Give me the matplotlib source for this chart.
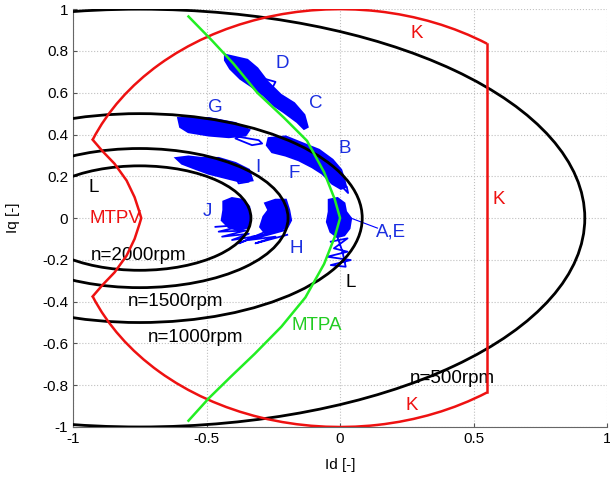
import numpy as np
from matplotlib import pyplot as plt
from matplotlib.patches import Ellipse, Arc

plt.rcParams['font.family'] = ['Liberation Sans', 'DejaVu Sans']

# voltage limit ellipses (centre on Id axis, semi axes)
ell_center = -0.751
ell_a = [1.668, 0.834, 0.556, 0.417]
ell_b = [1.0, 0.5, 0.333, 0.25]

# current limit K: unit circle, cut at Id = 0.55
k_id_max = 0.55
k_theta = [56.6, 158.0]

# MTPV and MTPA curves
mtpv_x = [-0.927, -0.89, -0.845, -0.80, -0.77, -0.752, -0.745, -0.752, -0.77, -0.80, -0.845, -0.89, -0.927]
mtpv_y = [0.375, 0.32, 0.26, 0.18, 0.10, 0.03, 0.0, -0.03, -0.10, -0.18, -0.26, -0.32, -0.375]
mtpa_x = [-0.568, -0.48, -0.40, -0.31, -0.21, -0.124, -0.06, -0.02, 0.0, -0.02, -0.06, -0.13, -0.22, -0.32, -0.41, -0.49, -0.568]
mtpa_y = [0.965, 0.85, 0.74, 0.60, 0.48, 0.37, 0.22, 0.09, 0.0, -0.09, -0.22, -0.38, -0.52, -0.65, -0.76, -0.86, -0.97]

# measured trajectories, outlines of the dense blobs
dc_x = [-0.430, -0.348, -0.311, -0.273, -0.223, -0.173, -0.135, -0.123, -0.135, -0.160, -0.211, -0.248, -0.286, -0.336, -0.373, -0.411, -0.430]
dc_y = [0.780, 0.756, 0.716, 0.652, 0.589, 0.549, 0.493, 0.437, 0.429, 0.461, 0.509, 0.541, 0.589, 0.636, 0.668, 0.716, 0.756]
g_x = [-0.605, -0.492, -0.392, -0.342, -0.355, -0.417, -0.492, -0.568, -0.598]
g_y = [0.477, 0.477, 0.453, 0.421, 0.397, 0.389, 0.397, 0.413, 0.437]
i_x = [-0.612, -0.568, -0.518, -0.455, -0.392, -0.342, -0.330, -0.367, -0.417, -0.492, -0.543, -0.592]
i_y = [0.286, 0.293, 0.286, 0.286, 0.262, 0.230, 0.182, 0.174, 0.190, 0.214, 0.238, 0.262]
bf_x = [-0.267, -0.204, -0.142, -0.079, -0.029, 0.003, 0.015, 0.021, 0.003, -0.029, -0.066, -0.104, -0.154, -0.204, -0.254, -0.273]
bf_y = [0.381, 0.389, 0.357, 0.325, 0.278, 0.230, 0.182, 0.150, 0.142, 0.166, 0.214, 0.245, 0.278, 0.301, 0.317, 0.349]
j_x = [-0.436, -0.405, -0.367, -0.342, -0.336, -0.342, -0.380, -0.417, -0.442, -0.436]
j_y = [0.078, 0.094, 0.086, 0.054, 0.006, -0.042, -0.057, -0.042, -0.010, 0.038]
h_x = [-0.279, -0.242, -0.204, -0.192, -0.185, -0.198, -0.229, -0.279, -0.298, -0.286, -0.267]
h_y = [0.070, 0.086, 0.086, 0.038, -0.010, -0.042, -0.057, -0.073, -0.042, 0.006, 0.038]
ae_x = [-0.041, -0.010, 0.015, 0.021, 0.040, 0.034, 0.015, -0.010, -0.035, -0.048, -0.041]
ae_y = [0.086, 0.094, 0.070, 0.030, -0.002, -0.049, -0.081, -0.089, -0.065, -0.018, 0.030]

# loops / zigzags of the trajectories
loops = [
    ([-0.286, -0.242, -0.261, -0.286], [0.668, 0.652, 0.605, 0.668]),
    ([-0.417, -0.305, -0.292, -0.330, -0.392, -0.367], [0.397, 0.373, 0.357, 0.349, 0.381, 0.397]),
    ([-0.392, -0.380, -0.342, -0.355, -0.392], [0.198, 0.166, 0.174, 0.214, 0.198]),
    ([-0.467, -0.342, -0.455, -0.355, -0.442, -0.342, -0.405, -0.305, -0.380, -0.279],
     [-0.042, -0.030, -0.065, -0.060, -0.089, -0.075, -0.105, -0.085, -0.121, -0.065]),
    ([-0.330, -0.204, -0.342, -0.242, -0.317, -0.198],
     [-0.089, -0.057, -0.105, -0.089, -0.121, -0.080]),
    ([-0.035, 0.028, -0.023, 0.028, -0.048, 0.040, -0.035, 0.021, 0.009, -0.01],
     [-0.113, -0.097, -0.145, -0.161, -0.185, -0.201, -0.225, -0.233, -0.161, -0.09]),
    ([0.0, 0.025, 0.03, 0.0], [0.16, 0.15, 0.12, 0.16]),
]
ptr_x = [0.04, 0.14]
ptr_y = [0.0, -0.048]

blue = '#0000ff'
red = '#ee1111'
green = '#22ee22'

fig = plt.figure(figsize=(6.1, 4.83), dpi=100)
ax = fig.add_axes([0.12, 0.116, 0.875, 0.865])

for a, b in zip(ell_a, ell_b):
    ax.add_patch(Ellipse((ell_center, 0), 2 * a, 2 * b, fill=False, ec='black', lw=2.0, zorder=3))

ax.add_patch(Arc((0, 0), 2, 2, theta1=k_theta[0], theta2=k_theta[1], ec=red, lw=1.8, zorder=4))
ax.add_patch(Arc((0, 0), 2, 2, theta1=360 - k_theta[1], theta2=360 - k_theta[0], ec=red, lw=1.8, zorder=4))
k_y = np.sin(np.radians(k_theta[0]))
ax.plot([k_id_max, k_id_max], [-k_y, k_y], color=red, lw=1.8, zorder=4)
ax.plot(mtpv_x, mtpv_y, color=red, lw=1.8, zorder=4)

for bx, by in [(dc_x, dc_y), (g_x, g_y), (i_x, i_y), (bf_x, bf_y), (j_x, j_y), (h_x, h_y), (ae_x, ae_y)]:
    ax.fill(bx, by, color=blue, lw=2.0, ec=blue, zorder=2)
for lx, ly in loops:
    ax.plot(lx, ly, color=blue, lw=1.3, zorder=2)
ax.plot(ptr_x, ptr_y, color=blue, lw=0.8, zorder=2)

ax.plot(mtpa_x, mtpa_y, color=green, lw=1.8, zorder=5)

fs = 13.5
ax.text(0.286, 0.885, 'K', color=red, fontsize=fs, ha='center', va='center')
ax.text(0.594, 0.09, 'K', color=red, fontsize=fs, ha='center', va='center')
ax.text(0.267, -0.895, 'K', color=red, fontsize=fs, ha='center', va='center')
ax.text(-0.84, 0.0, 'MTPV', color=red, fontsize=fs, ha='center', va='center')
ax.text(-0.925, 0.144, 'L', color='black', fontsize=fs, ha='center', va='center')
ax.text(0.038, -0.31, 'L', color='black', fontsize=fs, ha='center', va='center')
ax.text(-0.756, -0.177, 'n=2000rpm', color='black', fontsize=fs, ha='center', va='center')
ax.text(-0.617, -0.397, 'n=1500rpm', color='black', fontsize=fs, ha='center', va='center')
ax.text(-0.541, -0.574, 'n=1000rpm', color='black', fontsize=fs, ha='center', va='center')
ax.text(0.42, -0.766, 'n=500rpm', color='black', fontsize=fs, ha='center', va='center')
ax.text(-0.086, -0.512, 'MTPA', color='#22cc22', fontsize=fs, ha='center', va='center')
for s, x, y in [('D', -0.218, 0.74), ('C', -0.09, 0.55), ('G', -0.466, 0.53), ('B', 0.019, 0.335),
                ('I', -0.308, 0.244), ('F', -0.173, 0.215), ('J', -0.496, 0.03), ('H', -0.165, -0.144),
                ('A,E', 0.19, -0.067)]:
    ax.text(x, y, s, color='#1a2ee0', fontsize=fs, ha='center', va='center')

ax.set_xlim(-1, 1)
ax.set_ylim(-1, 1)
ax.set_xticks([-1, -0.5, 0, 0.5, 1])
ax.set_xticklabels(['-1', '-0.5', '0', '0.5', '1'])
yt = [-1, -0.8, -0.6, -0.4, -0.2, 0, 0.2, 0.4, 0.6, 0.8, 1]
ax.set_yticks(yt)
ax.set_yticklabels(['-1', '-0.8', '-0.6', '-0.4', '-0.2', '0', '0.2', '0.4', '0.6', '0.8', '1'])
ax.tick_params(direction='in', length=3, labelsize=11, color='#555555')
ax.grid(True, linestyle=':', color='#c0c0c0', lw=0.8)
ax.spines['top'].set_visible(False)
ax.spines['right'].set_visible(False)
ax.spines['left'].set_color('#666666')
ax.spines['bottom'].set_color('#666666')
ax.set_xlabel('Id [-]', fontsize=11, labelpad=9)
ax.set_ylabel('Iq [-]', fontsize=11, labelpad=16)

fig.savefig('out.png', dpi=100)
